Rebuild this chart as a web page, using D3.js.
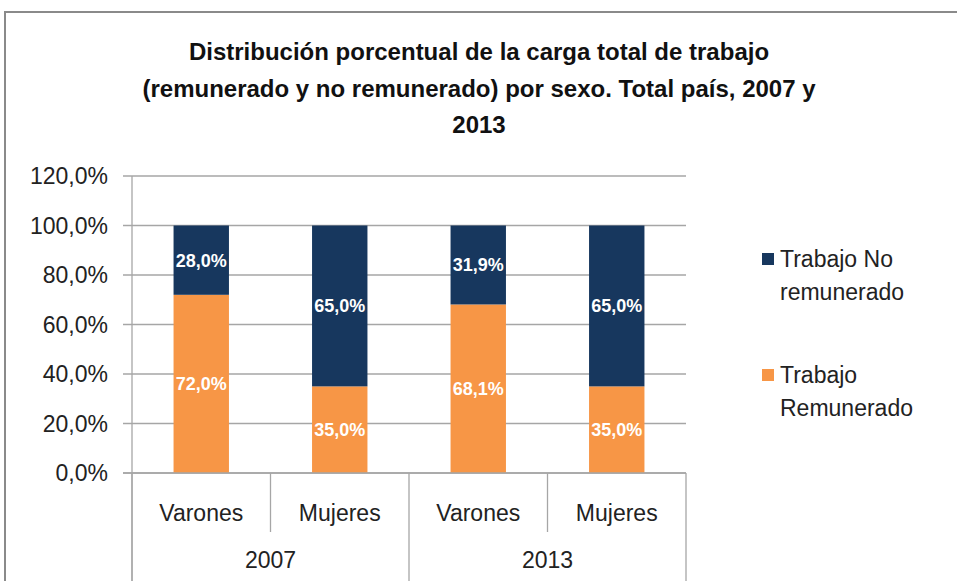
<!DOCTYPE html>
<html>
<head>
<meta charset="utf-8">
<script src="https://cdn.jsdelivr.net/npm/d3@7"></script>
<style>
body { margin: 0; background: #fff; }
svg text { font-family: "Liberation Sans", Arial, sans-serif; fill: #222; }
.grid line { stroke: #a6a6a6; stroke-width: 1.3px; }
.tick-label { font-size: 23px; }
.bar-label { font-size: 18px; font-weight: bold; fill: #fff; }
.title { font-size: 24px; font-weight: bold; fill: #111; }
</style>
</head>
<body>
<svg width="957" height="581"></svg>
<script>
// data
var years = ["2007", "2013"];
var sexes = ["Varones", "Mujeres"];
var remunerado = [72.0, 35.0, 68.1, 35.0];
var noRemunerado = [28.0, 65.0, 31.9, 65.0];
var yTicks = [0, 20, 40, 60, 80, 100, 120];
var titleLines = [
	"Distribución porcentual de la carga total de trabajo",
	"(remunerado y no remunerado) por sexo. Total país, 2007 y",
	"2013"
];

var colNavy = "#17375e", colOrange = "#f79646";

var svg = d3.select("svg");

// chart frame
svg.append("path")
	.attr("d", "M5,581 L5,12 L957,12")
	.attr("fill", "none")
	.attr("stroke", "#8a8a8a")
	.attr("stroke-width", 2);

// title
svg.append("g").selectAll("text")
	.data(titleLines)
	.enter().append("text")
	.attr("class", "title")
	.attr("x", 479)
	.attr("y", function(d, i) { return 60 + i * 36.5; })
	.attr("text-anchor", "middle")
	.text(function(d) { return d; });

var cats = [];
years.forEach(function(y) {
	sexes.forEach(function(s) { cats.push(y + "|" + s); });
});

var x = d3.scaleBand().domain(cats).range([132, 686]).paddingInner(0.6).paddingOuter(0.3);
var xOuter = d3.scaleBand().domain(years).range([132, 686]);
var y = d3.scaleLinear().domain([0, 120]).range([473, 176]);

// gridlines
svg.append("g").attr("class", "grid")
	.selectAll("line")
	.data(yTicks)
	.enter().append("line")
	.attr("x1", 123).attr("x2", 686)
	.attr("y1", function(d) { return y(d); })
	.attr("y2", function(d) { return y(d); });

// y axis line
svg.append("line")
	.attr("x1", 132).attr("x2", 132)
	.attr("y1", y(120)).attr("y2", 581)
	.attr("stroke", "#a6a6a6").attr("stroke-width", 1.3);

function fmt(v) { return d3.format(".1f")(v).replace(".", ",") + "%"; }

// y labels
svg.append("g").selectAll("text")
	.data(yTicks)
	.enter().append("text")
	.attr("class", "tick-label")
	.attr("x", 108)
	.attr("y", function(d) { return y(d); })
	.attr("dy", "0.36em")
	.attr("text-anchor", "end")
	.text(fmt);

// stacked bars
var rows = cats.map(function(c, i) {
	return { cat: c, rem: remunerado[i], noRem: noRemunerado[i] };
});

var bars = svg.append("g");
bars.selectAll("rect.rem")
	.data(rows)
	.enter().append("rect")
	.attr("x", function(d) { return x(d.cat); })
	.attr("width", x.bandwidth())
	.attr("y", function(d) { return y(d.rem); })
	.attr("height", function(d) { return y(0) - y(d.rem); })
	.attr("fill", colOrange);

bars.selectAll("rect.norem")
	.data(rows)
	.enter().append("rect")
	.attr("x", function(d) { return x(d.cat); })
	.attr("width", x.bandwidth())
	.attr("y", function(d) { return y(d.rem + d.noRem); })
	.attr("height", function(d) { return y(d.rem) - y(d.rem + d.noRem); })
	.attr("fill", colNavy);

bars.selectAll("text.rem")
	.data(rows)
	.enter().append("text")
	.attr("class", "bar-label")
	.attr("x", function(d) { return x(d.cat) + x.bandwidth() / 2; })
	.attr("y", function(d) { return y(d.rem / 2); })
	.attr("dy", "0.36em")
	.attr("text-anchor", "middle")
	.text(function(d) { return fmt(d.rem); });

bars.selectAll("text.norem")
	.data(rows)
	.enter().append("text")
	.attr("class", "bar-label")
	.attr("x", function(d) { return x(d.cat) + x.bandwidth() / 2; })
	.attr("y", function(d) { return y(d.rem + d.noRem / 2); })
	.attr("dy", "0.36em")
	.attr("text-anchor", "middle")
	.text(function(d) { return fmt(d.noRem); });

// category axis (two levels)
svg.append("line")
	.attr("x1", 123).attr("x2", 686)
	.attr("y1", y(0)).attr("y2", y(0))
	.attr("stroke", "#a6a6a6").attr("stroke-width", 1.3);

var innerEdges = d3.range(cats.length + 1).map(function(i) { return 132 + i * x.step(); });
svg.append("g").selectAll("line")
	.data(innerEdges)
	.enter().append("line")
	.attr("x1", function(d) { return d; }).attr("x2", function(d) { return d; })
	.attr("y1", y(0))
	.attr("y2", function(d, i) { return (i % sexes.length === 0) ? 581 : 532; })
	.attr("stroke", "#a6a6a6").attr("stroke-width", 1.3);

svg.append("g").selectAll("text")
	.data(cats)
	.enter().append("text")
	.attr("class", "tick-label")
	.attr("x", function(d) { return x(d) + x.bandwidth() / 2; })
	.attr("y", 513)
	.attr("dy", "0.36em")
	.attr("text-anchor", "middle")
	.text(function(d) { return d.split("|")[1]; });

svg.append("g").selectAll("text")
	.data(years)
	.enter().append("text")
	.attr("class", "tick-label")
	.attr("x", function(d) { return xOuter(d) + xOuter.bandwidth() / 2; })
	.attr("y", 560)
	.attr("dy", "0.36em")
	.attr("text-anchor", "middle")
	.text(function(d) { return d; });

// legend
var legend = [
	{ lines: ["Trabajo No", "remunerado"], color: colNavy, top: 259 },
	{ lines: ["Trabajo", "Remunerado"], color: colOrange, top: 375 }
];
var lg = svg.append("g").selectAll("g")
	.data(legend)
	.enter().append("g");
lg.append("rect")
	.attr("x", 762).attr("width", 12).attr("height", 12)
	.attr("y", function(d) { return d.top - 6; })
	.attr("fill", function(d) { return d.color; });
lg.each(function(d) {
	d3.select(this).selectAll("text")
		.data(d.lines)
		.enter().append("text")
		.attr("class", "tick-label")
		.attr("x", 780)
		.attr("y", function(t, i) { return d.top + i * 33; })
		.attr("dy", "0.36em")
		.text(function(t) { return t; });
});
</script>
</body>
</html>
